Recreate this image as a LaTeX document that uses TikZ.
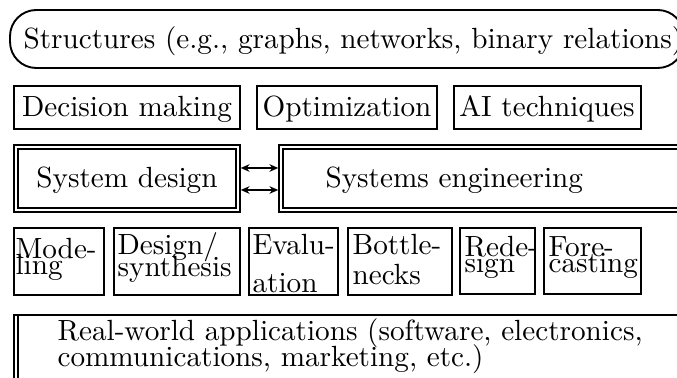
\documentclass[tikz,border=0pt]{standalone}
\usetikzlibrary{arrows.meta,fit,calc}
\begin{document}
\begin{tikzpicture}[x=0.3425pt, y=-0.3425pt,
  box/.style={draw, line width=0.65pt, inner sep=0pt, outer sep=0pt},
  dbox/.style={draw, line width=0.6pt, double, double distance=0.7pt,
    inner sep=0pt, outer sep=0.95pt},
  roundbox/.style={box, rounded corners=9pt},
  txt/.style={inner sep=0pt, anchor=base west},
  ctxt/.style={inner sep=0pt, anchor=base},
  link/.style={line width=0.6pt, {Stealth[length=3pt,width=2.6pt]}-{Stealth[length=3pt,width=2.6pt]}}]
\useasboundingbox (0,0) rectangle (677,378);
\clip (0,0) rectangle (677,378);

% top layer: structures
\node[roundbox, fit={(10,10) (684,68)}] (structures) {};
\node[txt] (structures-t) at (23,49) {Structures (e.g., graphs, networks, binary relations)};

% second row: methods
\node[box, fit={(14,86) (240,129)}] (decision) {};
\node[box, fit={(257,86) (437,129)}] (optim) {};
\node[box, fit={(454,86) (641,129)}] (ai) {};
\node[ctxt] (decision-t) at (127,117) {Decision making};
\node[ctxt] (optim-t) at (347,117) {Optimization};
\node[ctxt] (ai-t) at (547,117) {AI techniques};

% third row: system design and systems engineering
\node[dbox, fit={(16,147) (238,210)}] (sysdesign) {};
\node[dbox, fit={(281,147) (720,210)}] (syseng) {};
\node[ctxt] (sysdesign-t) at (127,188) {System design};
\node[txt] (syseng-t) at (325,188) {Systems engineering};
\draw[link] ($(sysdesign.east)+(0,-10.5)$) -- ($(syseng.west)+(0,-10.5)$);
\draw[link] ($(sysdesign.east)+(0,11.5)$) -- ($(syseng.west)+(0,11.5)$);

% fourth row: design stages
\node[box, fit={(14,228) (104,295)}] (modeling) {};
\node[box, fit={(114,228) (240,295)}] (synthesis) {};
\node[box, fit={(249,228) (338,295)}] (evaluation) {};
\node[box, fit={(348,228) (452,295)}] (bottlenecks) {};
\node[box, fit={(460,228) (535,294)}] (redesign) {};
\node[box, fit={(544,228) (641,294)}] (forecasting) {};

\node[txt] (modeling-1) at (15,259) {Mode-};
\node[txt] (modeling-2) at (15,275) {ling};
\node[txt] (synthesis-1) at (117,255) {Design/};
\node[txt] (synthesis-2) at (117,277) {synthesis};
\node[txt] (evaluation-1) at (252,255) {Evalu-};
\node[txt] (evaluation-2) at (252,293) {ation};
\node[txt] (bottlenecks-1) at (352,255) {Bottle-};
\node[txt] (bottlenecks-2) at (352,285) {necks};
\node[txt] (redesign-1) at (464,257) {Rede-};
\node[txt] (redesign-2) at (464,273) {sign};
\node[txt] (forecasting-1) at (548,257) {Fore-};
\node[txt] (forecasting-2) at (548,273) {casting};

% bottom layer: applications
\node[box, fit={(14,315) (720,420)}] (apps) {};
\draw[line width=0.6pt] ($(apps.north west)+(4,0)$) -- ($(apps.south west)+(4,0)$);
\node[txt] (apps-1) at (57,341) {Real-world applications (software, electronics,};
\node[txt] (apps-2) at (57,367) {communications, marketing, etc.)};
\end{tikzpicture}
\end{document}
